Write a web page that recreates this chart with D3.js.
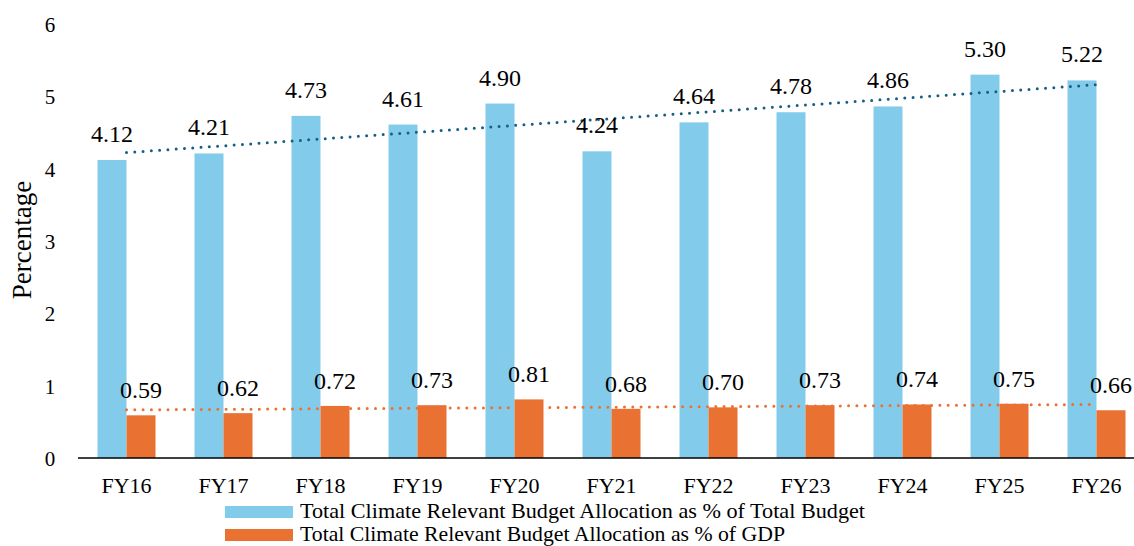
<!DOCTYPE html>
<html>
<head>
<meta charset="utf-8">
<script src="https://cdn.jsdelivr.net/npm/d3@7"></script>
<style>
  html, body { margin: 0; padding: 0; background: #ffffff; }
  svg { display: block; font-family: "Liberation Serif", "Times New Roman", serif; }
</style>
</head>
<body>
<svg id="chart" width="1134" height="546"></svg>
<script>
// Fiscal years on the category axis
const categories = ["FY16", "FY17", "FY18", "FY19", "FY20", "FY21", "FY22", "FY23", "FY24", "FY25", "FY26"];
// Climate relevant budget allocation as % of total budget
const shareOfBudget = [4.12, 4.21, 4.73, 4.61, 4.90, 4.24, 4.64, 4.78, 4.86, 5.30, 5.22];
// Climate relevant budget allocation as % of GDP
const shareOfGDP = [0.59, 0.62, 0.72, 0.73, 0.81, 0.68, 0.70, 0.73, 0.74, 0.75, 0.66];
const yTicks = [0, 1, 2, 3, 4, 5, 6];
const seriesNames = [
  "Total Climate Relevant Budget Allocation as % of Total Budget",
  "Total Climate Relevant Budget Allocation as % of GDP"
];

const colors = { budget: "#83CBEB", gdp: "#E97132", budgetTrend: "#156082", gdpTrend: "#E97132" };

const svg = d3.select("#chart");

const x = d3.scaleBand().domain(categories).range([78, 1145]).paddingInner(0).paddingOuter(0);
const y = d3.scaleLinear().domain([0, 6]).range([458, 24]);
const barW = 29;

const rows = categories.map((c, i) => ({ cat: c, budget: shareOfBudget[i], gdp: shareOfGDP[i], i }));
const center = c => x(c) + x.bandwidth() / 2;

// Y axis tick labels (no axis line)
const yAxis = d3.axisLeft(y).tickValues(yTicks).tickSize(0).tickPadding(0).tickFormat(d3.format("d"));
const gy = svg.append("g").attr("transform", "translate(56,0)").call(yAxis);
gy.select(".domain").remove();
gy.selectAll("text")
  .attr("font-family", "Liberation Serif")
  .attr("font-size", 21)
  .attr("fill", "#000")
  .attr("text-anchor", "middle")
  .attr("x", -6)
  .attr("dy", "0.35em");

// Y axis title
svg.append("text")
  .attr("transform", "translate(31,240) rotate(-90)")
  .attr("text-anchor", "middle")
  .attr("font-size", 27)
  .attr("fill", "#000")
  .text("Percentage");

// Bars
const g = svg.append("g");
g.selectAll("rect.budget").data(rows).enter().append("rect")
  .attr("class", "budget")
  .attr("x", d => center(d.cat) - barW)
  .attr("width", barW)
  .attr("y", d => y(d.budget))
  .attr("height", d => y(0) - y(d.budget))
  .attr("fill", colors.budget);

g.selectAll("rect.gdp").data(rows).enter().append("rect")
  .attr("class", "gdp")
  .attr("x", d => center(d.cat))
  .attr("width", barW)
  .attr("y", d => y(d.gdp))
  .attr("height", d => y(0) - y(d.gdp))
  .attr("fill", colors.gdp);

// Linear trend lines (least squares over category index)
function linearFit(vals) {
  const n = vals.length;
  const mx = (n - 1) / 2;
  const my = d3.mean(vals);
  let sxy = 0, sxx = 0;
  vals.forEach((v, i) => { sxy += (i - mx) * (v - my); sxx += (i - mx) * (i - mx); });
  const slope = sxy / sxx;
  return i => my + slope * (i - mx);
}
const trendLine = d3.line().x(d => d[0]).y(d => d[1]);
[[shareOfBudget, colors.budgetTrend], [shareOfGDP, colors.gdpTrend]].forEach(([vals, col]) => {
  const f = linearFit(vals);
  const last = categories.length - 1;
  const pts = [[center(categories[0]), y(f(0))], [center(categories[last]), y(f(last))]];
  svg.append("path")
    .attr("d", trendLine(pts))
    .attr("fill", "none")
    .attr("stroke", col)
    .attr("stroke-width", 3)
    .attr("stroke-linecap", "round")
    .attr("stroke-dasharray", "0 8.3");
});

// X axis baseline and category labels
const xAxis = d3.axisBottom(x).tickSize(0).tickPadding(0);
const gx = svg.append("g").attr("transform", `translate(0,${y(0)})`).call(xAxis);
gx.select(".domain").remove();
gx.selectAll("text")
  .attr("font-family", "Liberation Serif")
  .attr("font-size", 22)
  .attr("fill", "#000")
  .attr("dy", null)
  .attr("y", 35);
svg.append("line")
  .attr("x1", 78).attr("x2", 1134)
  .attr("y1", y(0)).attr("y2", y(0))
  .attr("stroke", "#000").attr("stroke-width", 1.5);

// Data labels
const fmt = d3.format(".2f");
svg.selectAll("text.lblBudget").data(rows).enter().append("text")
  .attr("class", "lblBudget")
  .attr("x", d => center(d.cat) - barW / 2)
  .attr("y", d => y(d.budget) - 18)
  .attr("text-anchor", "middle")
  .attr("font-size", 24)
  .attr("fill", "#000")
  .text(d => fmt(d.budget));

svg.selectAll("text.lblGdp").data(rows).enter().append("text")
  .attr("class", "lblGdp")
  .attr("x", d => center(d.cat) + barW / 2)
  .attr("y", d => y(d.gdp) - 17)
  .attr("text-anchor", "middle")
  .attr("font-size", 24)
  .attr("fill", "#000")
  .text(d => fmt(d.gdp));

// Legend
const legend = svg.append("g");
[[seriesNames[0], colors.budget, 506, 517.5, 565], [seriesNames[1], colors.gdp, 529, 541.2, 485]].forEach(([name, col, top, base, len]) => {
  legend.append("rect").attr("x", 225).attr("y", top).attr("width", 68).attr("height", 12).attr("fill", col);
  legend.append("text")
    .attr("x", 300)
    .attr("y", base)
    .attr("font-size", 21)
    .attr("fill", "#000")
    .attr("textLength", len)
    .attr("lengthAdjust", "spacingAndGlyphs")
    .text(name);
});
</script>
</body>
</html>
